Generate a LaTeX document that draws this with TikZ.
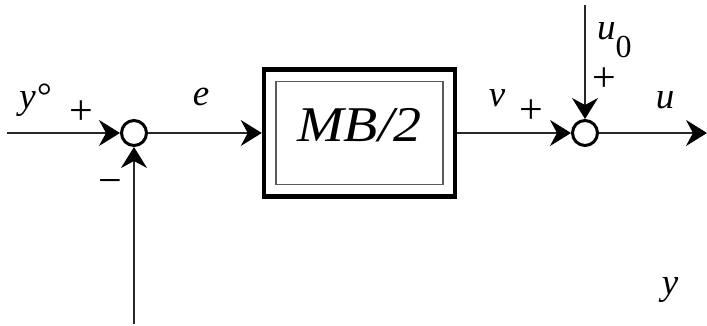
\documentclass[tikz,border=0pt]{standalone}
\usepackage{fontspec}
\setmainfont{Liberation Serif}
\usetikzlibrary{arrows.meta,positioning,calc}
\definecolor{wiregray}{RGB}{40,40,40}
\definecolor{framegray}{RGB}{90,90,90}

\tikzset{
  sumnode/.style={circle, draw, line width=3pt, minimum size=25pt, inner sep=0pt},
  wire/.style={line width=1.2pt, draw=wiregray, -{Stealth[length=21pt,width=26pt,inset=7pt,color=black]}},
  lbl/.style={font=\fontsize{37}{40}\selectfont\itshape, inner sep=0pt},
  sgn/.style={font=\fontsize{42}{44}\selectfont, inner sep=0pt},
}

\begin{document}
\begin{tikzpicture}[x=1pt, y=1pt]
  \useasboundingbox (0,0) rectangle (707,326);

  % summing points and block
  \node[sumnode] (sum1) at (134,193) {};
  \node[sumnode] (sum2) at (585,193) {};
  \node[draw, line width=4.5pt, minimum width=191pt, minimum height=127pt] (mb) at (359.5,193) {};
  \node[draw=framegray, line width=1.5pt, minimum width=167pt, minimum height=103pt] (mbin) at (mb.center) {};
  \node[font=\fontsize{50}{54}\selectfont\itshape, inner sep=0pt] (mbtext) at ($(mb.center)+(0,8)$) {\scalebox{1.12}[1]{MB/2}};

  % free ends
  \coordinate (ystart) at (7,193);
  \coordinate (fbstart) at (134,2);
  \coordinate (u0start) at (585,321);
  \coordinate (uend) at (707,193);

  % connectors
  \draw[wire] (ystart) -- (sum1);
  \draw[wire] (fbstart) -- (sum1);
  \draw[wire] (sum1) -- (mb);
  \draw[wire] (mb) -- (sum2);
  \draw[wire] (u0start) -- (sum2);
  \draw[wire] (sum2) -- (uend);

  % labels
  \node[lbl] (lref) at (35,226) {y°};
  \node[sgn] (pref) at (81,213) {+};
  \node[sgn] (mfb) at (110,139) {−};
  \node[lbl] (lerr) at (201,229) {e};
  \node[lbl] (lv) at (497,228) {v};
  \node[sgn] (pv) at (531,214) {+};
  \node[sgn] (pu0) at (604,246) {+};
  \node[lbl] (lu) at (665,226) {u};
  \node[lbl, anchor=base west] (lu0) at (597,286) {u\raisebox{-18pt}{\upshape\fontsize{32}{34}\selectfont 0}};
  \node[lbl] (ly) at (670,36) {y};
\end{tikzpicture}
\end{document}
